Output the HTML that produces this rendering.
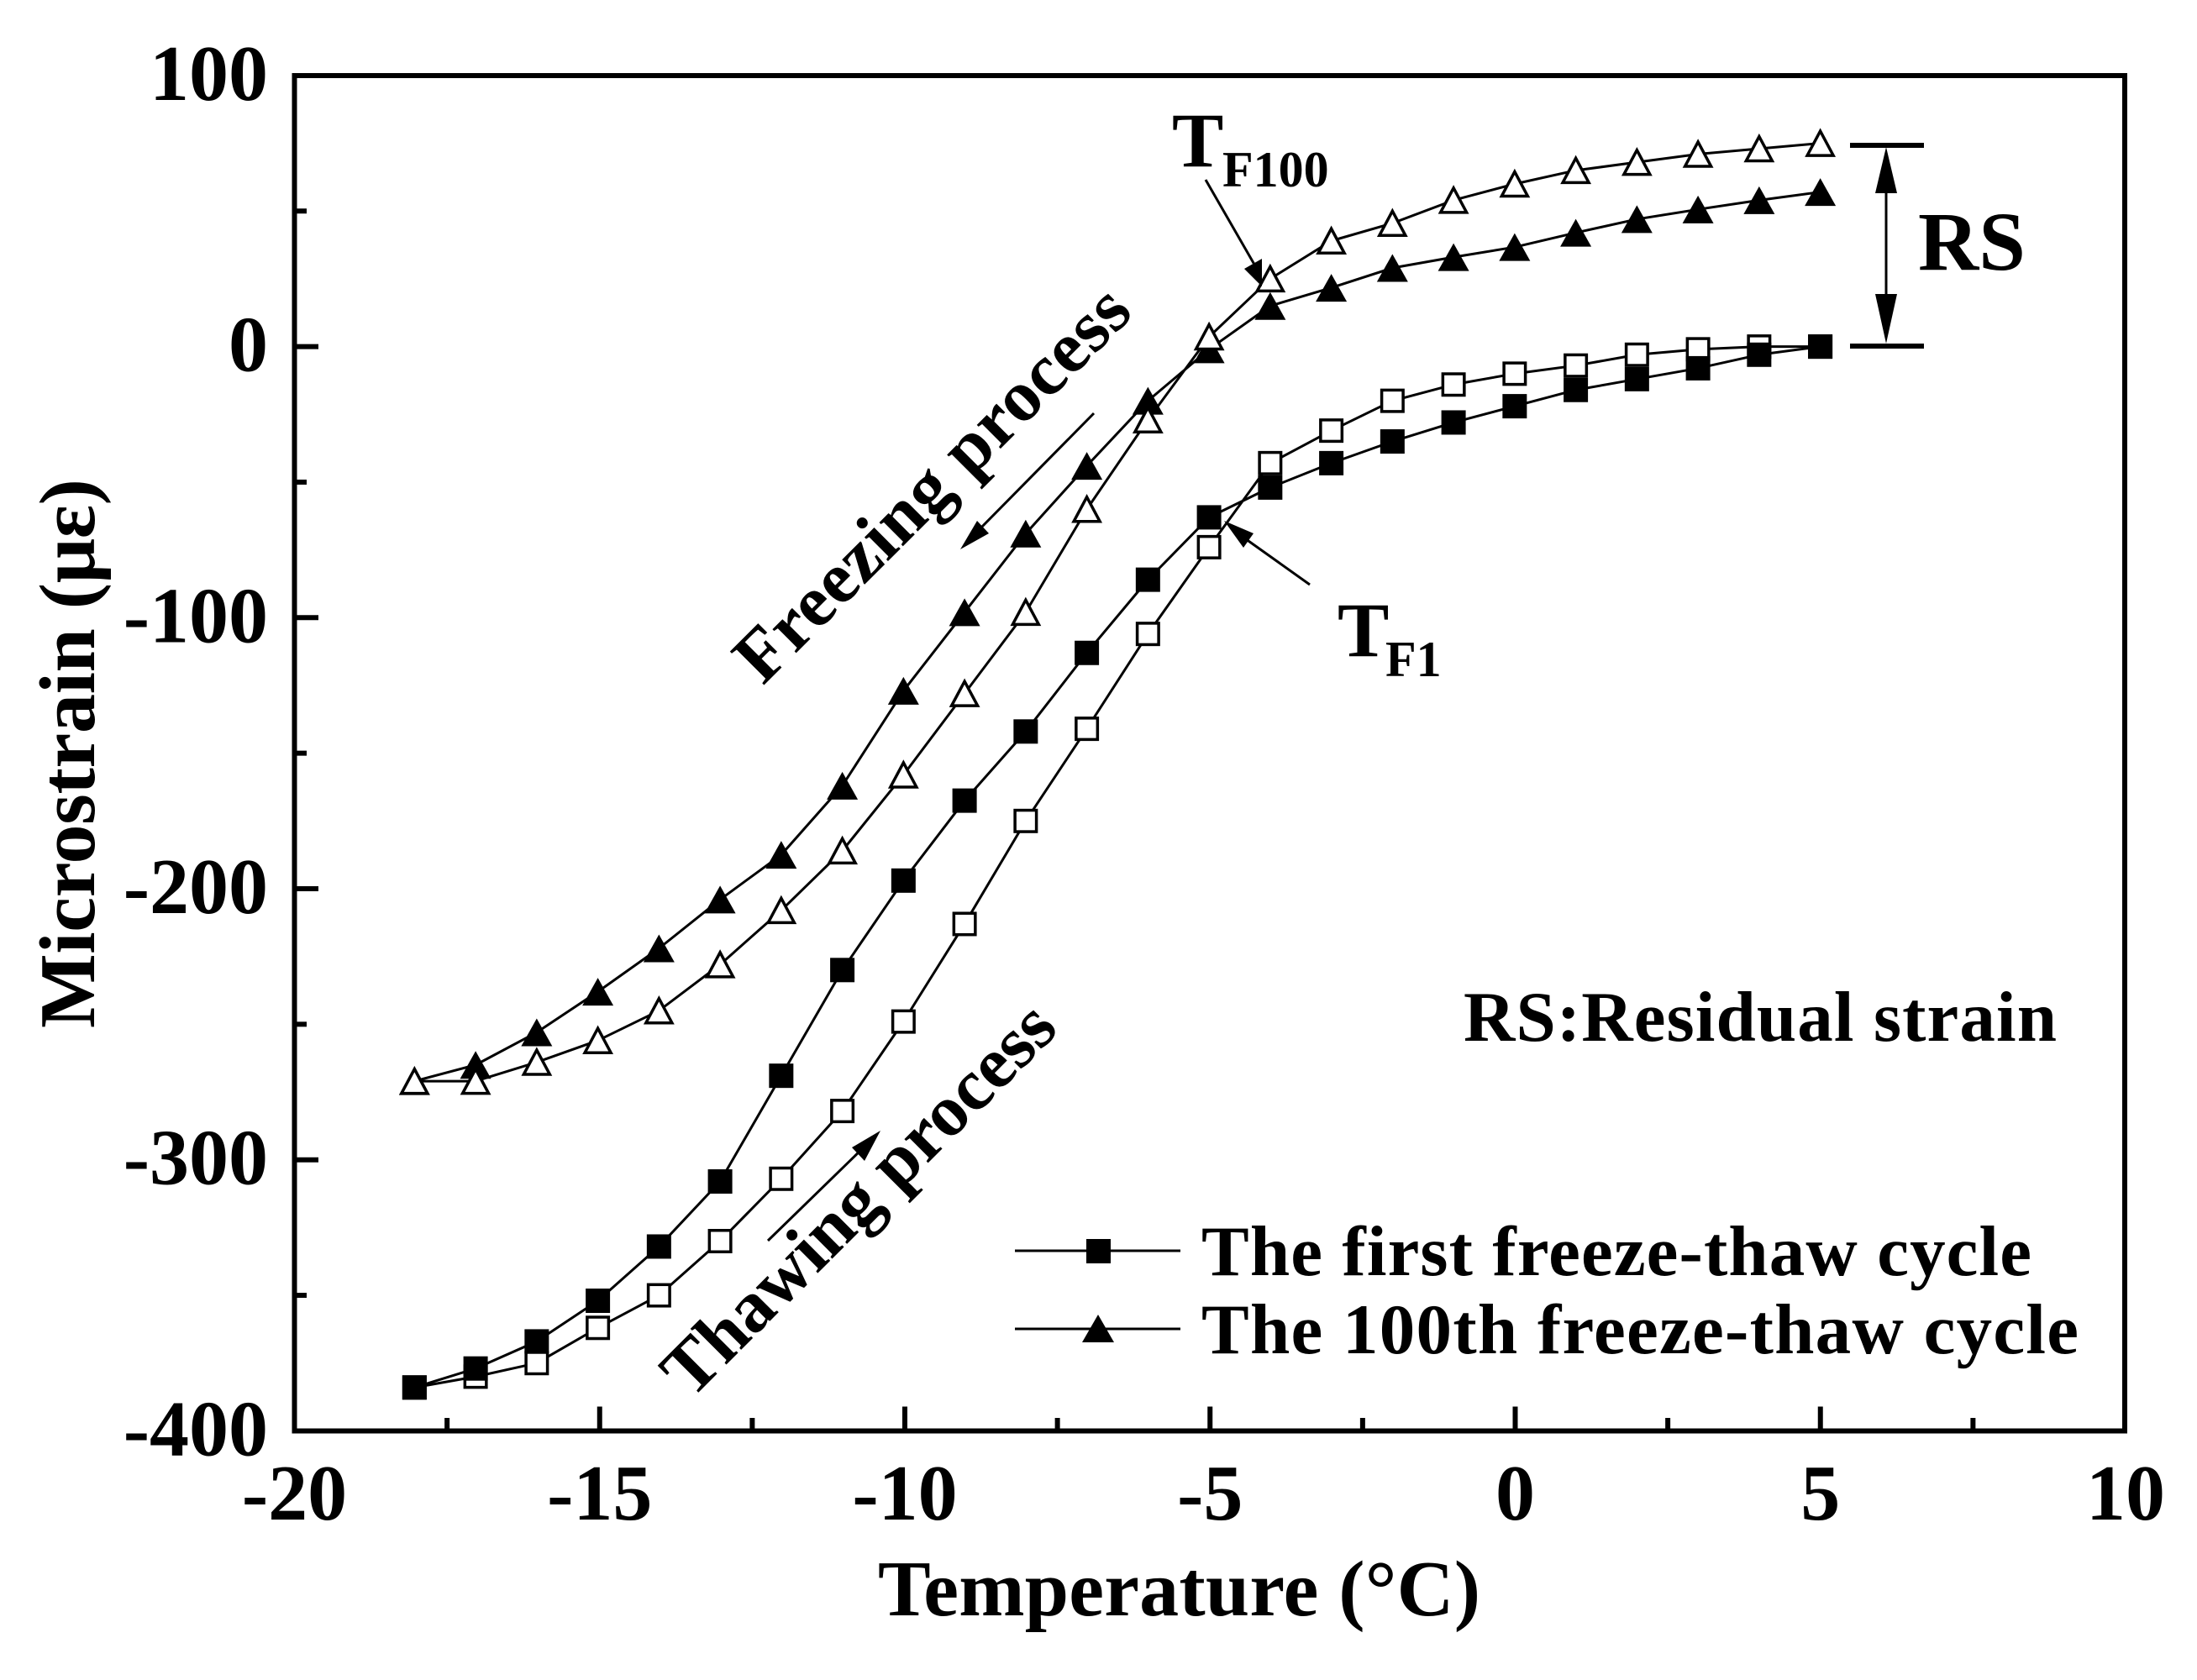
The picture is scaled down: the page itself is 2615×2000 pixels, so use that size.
<!DOCTYPE html>
<html lang="en">
<head>
<meta charset="utf-8">
<title>Microstrain vs Temperature</title>
<style>
html,body{margin:0;padding:0;background:#fff;}
svg{display:block;}
text{font-family:"Liberation Serif",serif;font-weight:bold;fill:#000;}
</style>
</head>
<body>
<svg id="chart" xmlns="http://www.w3.org/2000/svg" width="2615" height="2000" viewBox="0 0 2615 2000">
<rect x="0" y="0" width="2615" height="2000" fill="#fff"/>
<g id="axes"></g>
<g id="marks"></g>
<rect x="350.5" y="90" width="2178.5" height="1613.5" fill="none" stroke="#000" stroke-width="6"/>

<text transform="translate(112,1224) rotate(-90)" font-size="94" textLength="654" lengthAdjust="spacing">Microstrain (με)</text>
<text x="1045" y="1923" font-size="94" textLength="717" lengthAdjust="spacing">Temperature (°C)</text>

<text transform="translate(908,817) rotate(-45)" font-size="87" textLength="626" lengthAdjust="spacing">Freezing process</text>
<text transform="translate(822,1667) rotate(-45)" font-size="87" textLength="622" lengthAdjust="spacing">Thawing process</text>

<g>
<line x1="1302" y1="492" x2="1160" y2="636" stroke="#000" stroke-width="3"/>
<polygon points="1143,654 1163,620 1177,635" fill="#000"/>
</g>
<g>
<line x1="914" y1="1477" x2="1030" y2="1364" stroke="#000" stroke-width="3"/>
<polygon points="1048,1346 1029,1382 1014,1366" fill="#000"/>
</g>

<g>
<text x="1395" y="198" font-size="92">T</text>
<text x="1455" y="222" font-size="60">F100</text>
<line x1="1435" y1="214" x2="1496" y2="320" stroke="#000" stroke-width="3"/>
<polygon points="1502,341 1481,320 1502,308" fill="#000"/>
</g>
<g>
<text x="1592" y="781" font-size="92">T</text>
<text x="1649" y="805" font-size="60">F1</text>
<line x1="1559" y1="696" x2="1472" y2="634" stroke="#000" stroke-width="3"/>
<polygon points="1457,620 1492,635 1480,652" fill="#000"/>
</g>

<g>
<line x1="2202" y1="173" x2="2290" y2="173" stroke="#000" stroke-width="6"/>
<line x1="2202" y1="412" x2="2290" y2="412" stroke="#000" stroke-width="6"/>
<line x1="2245" y1="200" x2="2245" y2="385" stroke="#000" stroke-width="3"/>
<polygon points="2245,175 2232,230 2258,230" fill="#000"/>
<polygon points="2245,409 2232,350 2258,350" fill="#000"/>
</g>
<text x="2283" y="321" font-size="100">RS</text>
<text x="1742" y="1239" font-size="85" textLength="706" lengthAdjust="spacing">RS:Residual strain</text>

<g>
<g>
<line x1="1208" y1="1489" x2="1405" y2="1489" stroke="#000" stroke-width="3"/>
<rect x="1293" y="1475" width="29" height="29" fill="#000"/>
<text x="1430" y="1518" font-size="85" textLength="988" lengthAdjust="spacing">The first freeze-thaw cycle</text>
</g>
<g>
<line x1="1208" y1="1582" x2="1405" y2="1582" stroke="#000" stroke-width="3"/>
<polygon points="1307,1565 1326,1598 1288,1598" fill="#000"/>
<text x="1430" y="1611" font-size="85" textLength="1044" lengthAdjust="spacing">The 100th freeze-thaw cycle</text>
</g>
</g>
</svg>
<script>
const temperatures = [-18,-17,-16,-15,-14,-13,-12,-11,-10,-9,-8,-7,-6,-5,-4,-3,-2,-1,0,1,2,3,4,5];
const firstThawing = [-384,-380,-375,-362,-350,-330,-307,-282,-249,-213,-175,-141,-106,-74,-43,-31,-20,-14,-10,-7,-3,-1,0,0];
const firstFreezing = [-384,-377,-367,-352,-332,-308,-269,-230,-197,-167.5,-142,-113,-86,-63,-52,-43,-35,-28,-22,-16,-12,-8,-3,0];
const hundredthFreezing = [-271,-265,-253,-238,-222,-204,-187.5,-162,-127,-98,-69,-44,-20,-1,15,21.7,29,33,36.7,42,47,50.6,54,57];
const hundredthThawing = [-271,-271,-264,-256,-245,-228,-208,-186,-158,-128,-98,-60,-27,3.6,25,39,45.5,54,60,65,68,71,73,75];
const xTickLabels = [-20,-15,-10,-5,0,5,10];
const yTickLabels = [100,0,-100,-200,-300,-400];
const xMinorTicks = [-17.5,-12.5,-7.5,-2.5,2.5,7.5];
const yMinorTicks = [50,-50,-150,-250,-350];

const NS = 'http://www.w3.org/2000/svg';
function xScale(t){ return 350.5 + (t + 20) * 72.65; }
function xMark(t){ return 2166.6 + (t - 5) * 72.75; }
function yScale(v){ return 412.6 - v * 3.227; }

const axes = document.getElementById('axes');
const marks = document.getElementById('marks');

function tickLine(x1, y1, x2, y2){
  const l = document.createElementNS(NS, 'line');
  l.setAttribute('x1', x1);
  l.setAttribute('y1', y1);
  l.setAttribute('x2', x2);
  l.setAttribute('y2', y2);
  l.setAttribute('stroke', '#000');
  l.setAttribute('stroke-width', 6);
  return l;
}

xTickLabels.forEach(function(t){
  const x = xScale(t);
  if (t > -20 && t < 10) {
    const tick = tickLine(x, 1703.5, x, 1674.5);
    
    
    axes.appendChild(tick);
  }
  const label = document.createElementNS(NS, 'text');
  
  
  label.setAttribute('x', x);
  label.setAttribute('y', 1809);
  label.setAttribute('font-size', 94);
  label.setAttribute('text-anchor', 'middle');
  label.textContent = String(t);
  axes.appendChild(label);
});
xMinorTicks.forEach(function(t){
  const x = xScale(t);
  const tick = tickLine(x, 1703.5, x, 1688);
  
  
  axes.appendChild(tick);
});
yTickLabels.forEach(function(v){
  const y = yScale(v);
  if (v < 100 && v > -400) {
    const tick = tickLine(350.5, y, 379, y);
    
    
    axes.appendChild(tick);
  }
  const label = document.createElementNS(NS, 'text');
  
  
  label.setAttribute('x', 319);
  label.setAttribute('y', y + 29);
  label.setAttribute('font-size', 94);
  label.setAttribute('text-anchor', 'end');
  label.textContent = String(v);
  axes.appendChild(label);
});
yMinorTicks.forEach(function(v){
  const y = yScale(v);
  const tick = tickLine(350.5, y, 365, y);
  
  
  axes.appendChild(tick);
});

function drawSeries(values, shape, filled, name){
  const group = document.createElementNS(NS, 'g');
  
  
  const line = document.createElementNS(NS, 'polyline');
  
  
  line.setAttribute('fill', 'none');
  line.setAttribute('stroke', '#000');
  line.setAttribute('stroke-width', 3);
  line.setAttribute('stroke-linejoin', 'round');
  line.setAttribute('points', values.map(function(v, i){
    return xMark(temperatures[i]) + ',' + yScale(v);
  }).join(' '));
  group.appendChild(line);
  values.forEach(function(v, i){
    const cx = xMark(temperatures[i]);
    const cy = yScale(v);
    let m;
    if (shape === 'square') {
      const side = filled ? 29 : 25.5;
      m = document.createElementNS(NS, 'rect');
      m.setAttribute('x', cx - side / 2);
      m.setAttribute('y', cy - side / 2);
      m.setAttribute('width', side);
      m.setAttribute('height', side);
    } else {
      const hw = filled ? 18.5 : 15.5;
      const hh = filled ? 16.5 : 14.5;
      m = document.createElementNS(NS, 'polygon');
      m.setAttribute('points', cx + ',' + (cy - hh) + ' ' + (cx + hw) + ',' + (cy + hh) + ' ' + (cx - hw) + ',' + (cy + hh));
    }
    
    
    m.setAttribute('fill', filled ? '#000' : '#fff');
    if (!filled) {
      m.setAttribute('stroke', '#000');
      m.setAttribute('stroke-width', 3.5);
    }
    group.appendChild(m);
  });
  marks.appendChild(group);
}

drawSeries(firstThawing, 'square', false, 'first-cycle-thawing-series');
drawSeries(firstFreezing, 'square', true, 'first-cycle-freezing-series');
drawSeries(hundredthFreezing, 'triangle', true, 'hundredth-cycle-freezing-series');
drawSeries(hundredthThawing, 'triangle', false, 'hundredth-cycle-thawing-series');
</script>
</body>
</html>
